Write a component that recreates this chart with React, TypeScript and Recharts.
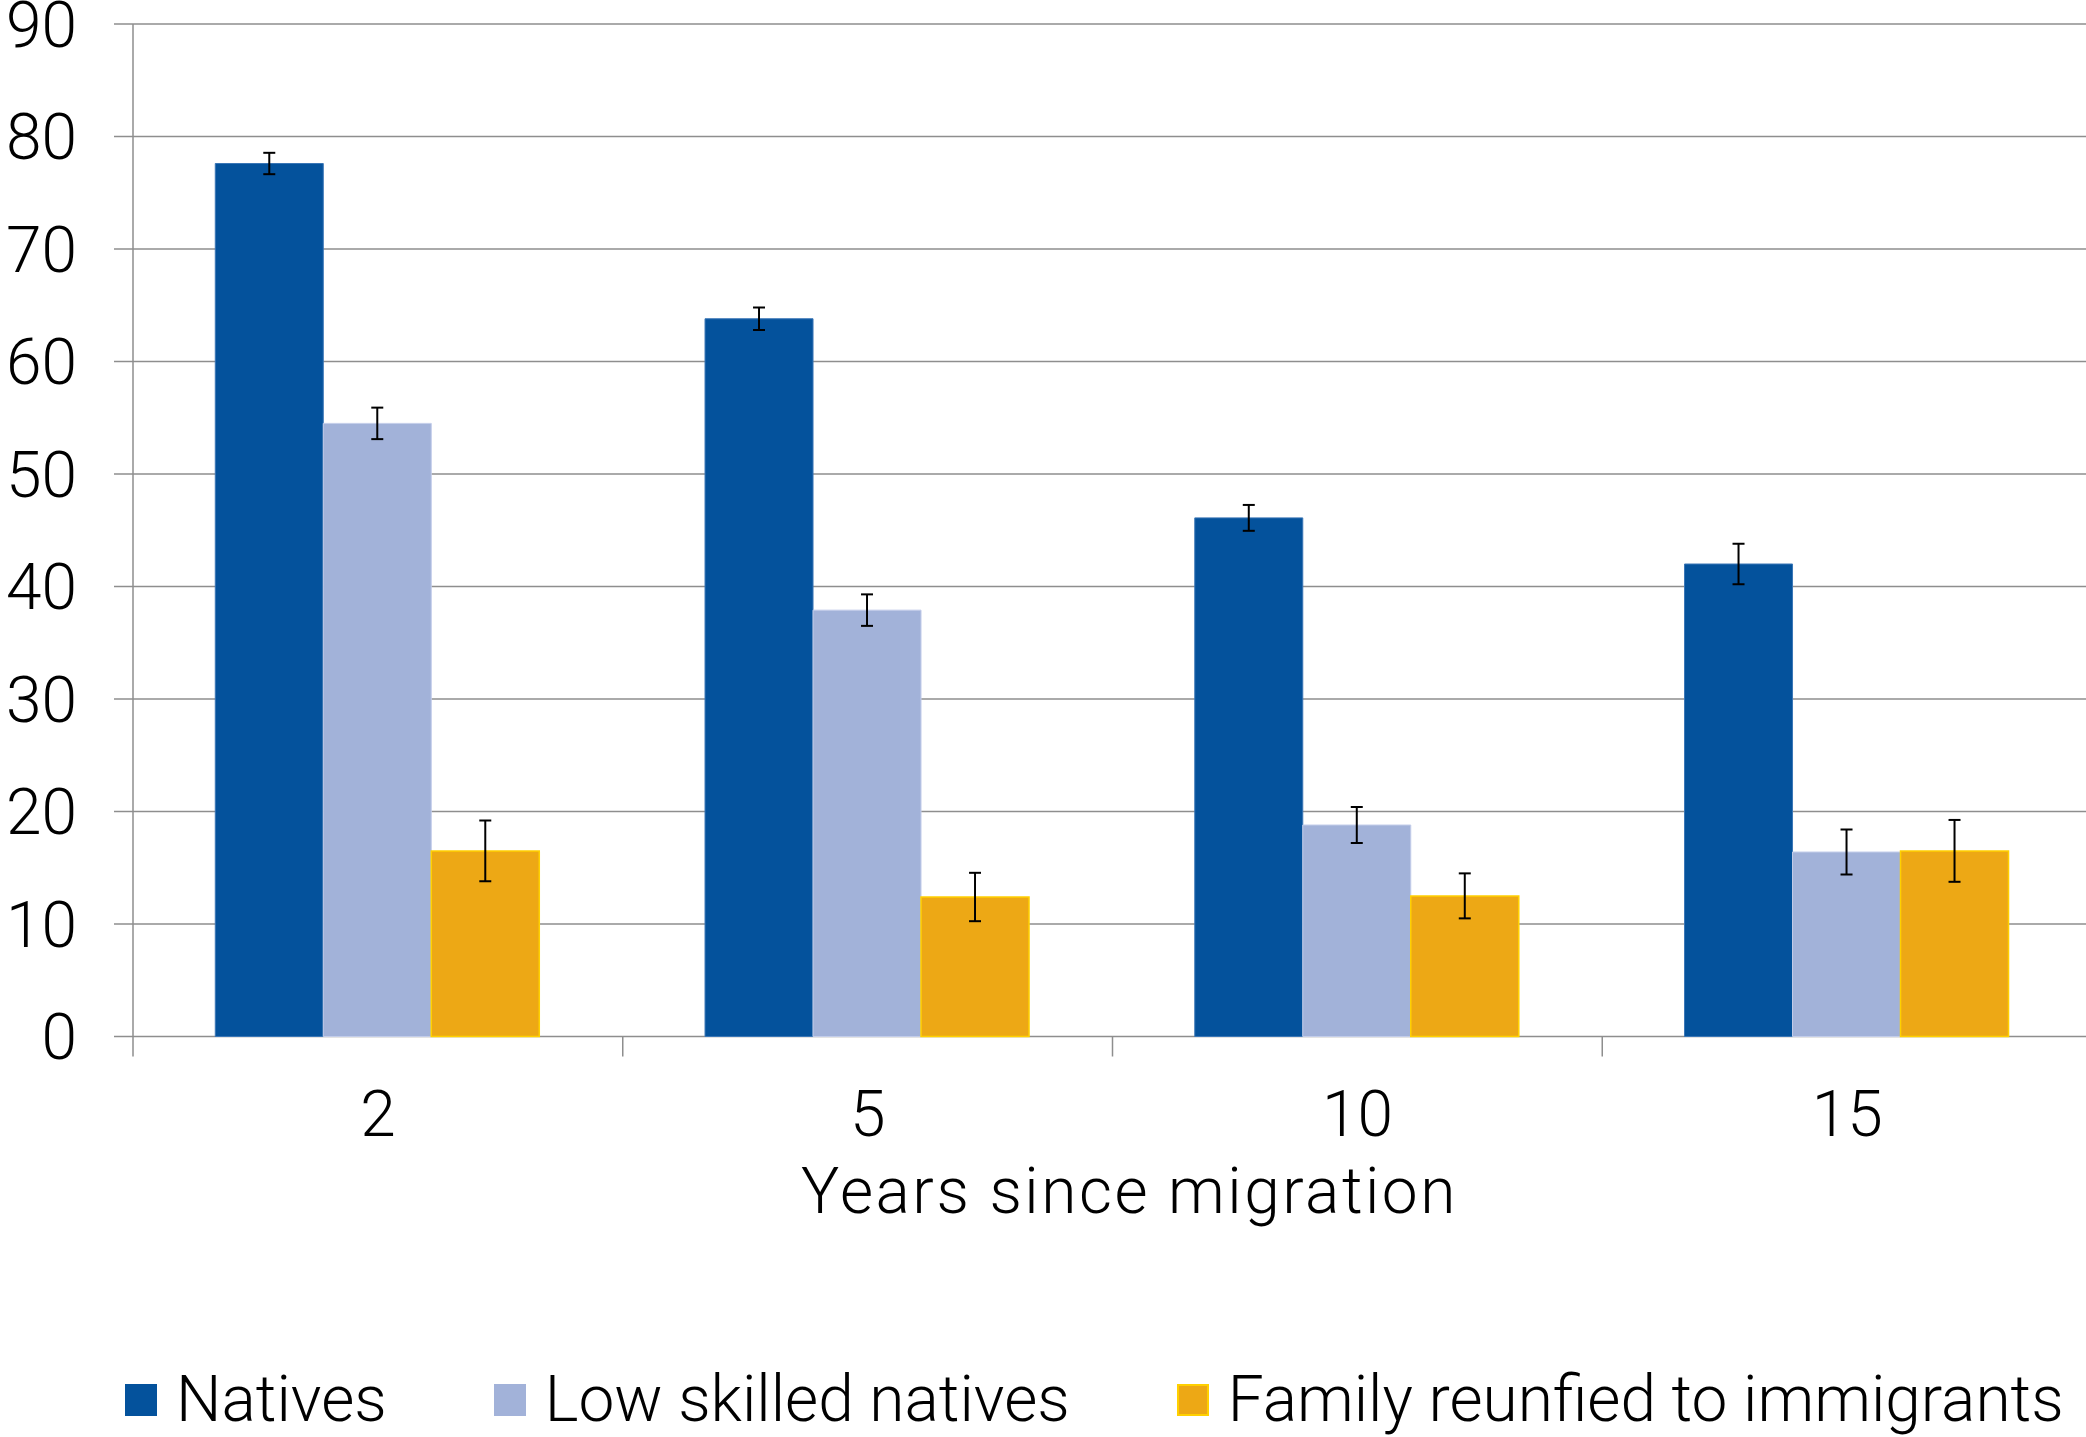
import React from 'react';
import {
  ComposedChart,
  Bar,
  XAxis,
  YAxis,
  CartesianGrid,
  ErrorBar,
  Legend,
  Label
} from 'recharts';

const years = ['2', '5', '10', '15'];
const natives = [77.6, 63.8, 46.1, 42.0];
const nativesErr = [0.95, 1.0, 1.15, 1.8];
const lowSkilled = [54.5, 37.9, 18.8, 16.4];
const lowSkilledErr = [1.4, 1.4, 1.6, 2.0];
const family = [16.5, 12.4, 12.5, 16.5];
const familyErr = [2.7, 2.15, 2.0, 2.75];
const yTicks = [0, 10, 20, 30, 40, 50, 60, 70, 80, 90];

const FONT = 'Roboto, "Open Sans", sans-serif';
const GRID = '#8e8e8e';
const TICK_GAP = 54;
const TICK_LEN = 20;

const SERIES = [
  { key: 'natives', err: 'nativesErr', name: 'Natives', color: '#04529c', edge: '#3a76b6' },
  { key: 'lowSkilled', err: 'lowSkilledErr', name: 'Low skilled natives', color: '#a2b2d9', edge: '#c3cdea' },
  { key: 'family', err: 'familyErr', name: 'Family reunfied to immigrants', color: '#eda815', edge: '#ffd000' }
];

const data = years.map((year, i) => ({
  year,
  natives: natives[i],
  nativesErr: nativesErr[i],
  lowSkilled: lowSkilled[i],
  lowSkilledErr: lowSkilledErr[i],
  family: family[i],
  familyErr: familyErr[i]
}));

// category label plus a tick mark on the left boundary of its band
function CategoryTick(props: any) {
  const { x, y, payload } = props;
  const left = x - (payload?.offset ?? 0);
  const axisY = y - TICK_GAP;
  return (
    <g>
      <line x1={left} x2={left} y1={axisY} y2={axisY + TICK_LEN} stroke={GRID} strokeWidth={1.5} />
      <text
        x={x}
        y={y}
        dy="0.71em"
        textAnchor="middle"
        fill="#000"
        fontSize={64}
        fontFamily={FONT}
        fontWeight={300}
      >
        {payload.value}
      </text>
    </g>
  );
}

function ChartLegend() {
  return (
    <div
      style={{
        display: 'flex',
        alignItems: 'center',
        height: 60,
        paddingLeft: 125,
        fontFamily: FONT,
        fontWeight: 300,
        fontSize: 64,
        color: '#000'
      }}
    >
      {SERIES.map((s, i) => (
        <div key={s.key} style={{ display: 'flex', alignItems: 'center', marginLeft: i === 0 ? 0 : 107 }}>
          <span
            style={{
              display: 'inline-block',
              width: 32,
              height: 32,
              boxSizing: 'border-box',
              background: s.color,
              border: s.key === 'family' ? `2px solid ${s.edge}` : 'none'
            }}
          />
          <span style={{ marginLeft: 19, lineHeight: 1, whiteSpace: 'nowrap' }}>{s.name}</span>
        </div>
      ))}
    </div>
  );
}

export default function App() {
  const tickStyle = { fill: '#000', fontSize: 64, fontFamily: FONT, fontWeight: 300 };
  return (
    <div style={{ position: 'absolute', left: 0, top: 0, width: 2086, height: 1437, overflow: 'hidden', background: '#fff' }}>
      <ComposedChart
        width={2092}
        height={1437}
        data={data}
        margin={{ top: 24, right: 0, left: 0, bottom: 7 }}
        barCategoryGap="16.8%"
        barGap={0}
      >
        <CartesianGrid vertical={false} stroke={GRID} strokeWidth={1.5} />
        <XAxis
          dataKey="year"
          height={333.5}
          tickLine={false}
          axisLine={false}
          tickSize={0}
          tickMargin={TICK_GAP}
          tick={<CategoryTick />}
          interval={0}
        >
          <Label
            value="Years since migration"
            position="insideTop"
            offset={131}
            dx={17}
            style={{ fill: '#000', fontSize: 64, fontFamily: FONT, fontWeight: 300, letterSpacing: 2.5 }}
          />
        </XAxis>
        <YAxis
          width={133}
          domain={[0, 90]}
          ticks={yTicks}
          interval={0}
          tick={tickStyle}
          tickSize={19}
          tickMargin={37}
          tickLine={{ stroke: GRID, strokeWidth: 1.5 }}
          axisLine={{ stroke: GRID, strokeWidth: 1.5 }}
        />
        <Legend verticalAlign="bottom" align="left" content={() => <ChartLegend />} />
        {SERIES.map((s) => (
          <Bar
            key={s.key}
            dataKey={s.key}
            name={s.name}
            fill={s.color}
            stroke={s.edge}
            strokeWidth={s.key === 'family' ? 1.5 : 1}
            isAnimationActive={false}
          >
            <ErrorBar dataKey={s.err} direction="y" width={6} stroke="#000" strokeWidth={2} />
          </Bar>
        ))}
      </ComposedChart>
    </div>
  );
}
